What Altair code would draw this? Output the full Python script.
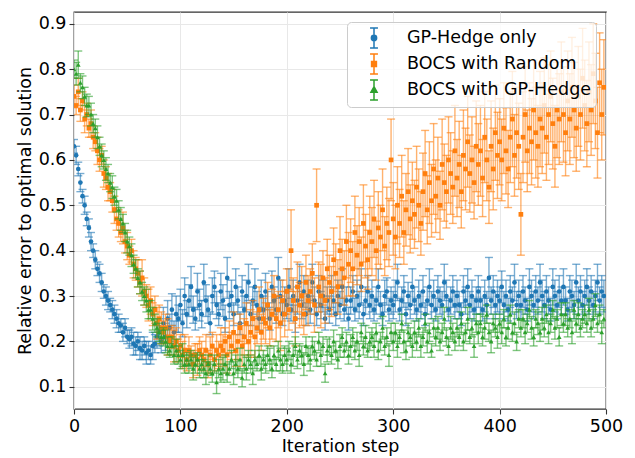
import altair as alt
import pandas as pd

# ---------------- data ----------------
steps = list(range(0, 500, 2))
series_names = ["GP-Hedge only", "BOCS with Random", "BOCS with GP-Hedge"]
series_colors = ["#1f77b4", "#ff7f0e", "#2ca02c"]
series_markers = ["circle", "square", "triangle-up"]
x_ticks = [0, 100, 200, 300, 400, 500]
y_ticks = [0.1, 0.2, 0.3, 0.4, 0.5, 0.6, 0.7, 0.8, 0.9]

gp_val = [
    0.63, 0.61, 0.58, 0.55, 0.52, 0.50, 0.47, 0.45, 0.42, 0.40,
    0.38, 0.36, 0.35, 0.33, 0.31, 0.30, 0.29, 0.28, 0.27, 0.26,
    0.25, 0.24, 0.235, 0.22, 0.23, 0.21, 0.205, 0.21, 0.195, 0.19,
    0.20, 0.185, 0.18, 0.19, 0.175, 0.18, 0.17, 0.19, 0.195, 0.21,
    0.22, 0.20, 0.24, 0.21, 0.25, 0.23, 0.27, 0.22, 0.26, 0.25,
    0.28, 0.24, 0.30, 0.26, 0.29, 0.32, 0.27, 0.25, 0.31, 0.28,
    0.26, 0.33, 0.29, 0.27, 0.24, 0.30, 0.32, 0.28, 0.26, 0.31,
    0.29, 0.25, 0.34, 0.28, 0.30, 0.26, 0.32, 0.29, 0.24, 0.31,
    0.27, 0.30, 0.33, 0.26, 0.29, 0.32, 0.28, 0.25, 0.30, 0.27,
    0.31, 0.28, 0.25, 0.32, 0.29, 0.27, 0.34, 0.30, 0.26, 0.29,
    0.28, 0.32, 0.27, 0.30, 0.25, 0.29, 0.33, 0.28, 0.31, 0.26,
    0.30, 0.27, 0.33, 0.29, 0.26, 0.31, 0.28, 0.30, 0.25, 0.29,
    0.27, 0.31, 0.29, 0.26, 0.30, 0.28, 0.32, 0.27, 0.29, 0.25,
    0.29, 0.31, 0.27, 0.30, 0.28, 0.32, 0.26, 0.29, 0.31, 0.28,
    0.30, 0.27, 0.29, 0.32, 0.28, 0.26, 0.30, 0.31, 0.27, 0.29,
    0.28, 0.30, 0.33, 0.27, 0.29, 0.31, 0.26, 0.30, 0.28, 0.32,
    0.29, 0.27, 0.30, 0.28, 0.31, 0.26, 0.29, 0.32, 0.28, 0.30,
    0.27, 0.31, 0.29, 0.28, 0.33, 0.30, 0.27, 0.29, 0.31, 0.28,
    0.30, 0.28, 0.26, 0.31, 0.29, 0.32, 0.28, 0.30, 0.27, 0.29,
    0.31, 0.29, 0.27, 0.30, 0.28, 0.34, 0.29, 0.31, 0.28, 0.30,
    0.29, 0.32, 0.28, 0.30, 0.27, 0.31, 0.29, 0.33, 0.28, 0.30,
    0.28, 0.31, 0.29, 0.27, 0.32, 0.30, 0.28, 0.31, 0.29, 0.33,
    0.30, 0.28, 0.31, 0.29, 0.27, 0.32, 0.30, 0.28, 0.31, 0.29,
    0.32, 0.29, 0.27, 0.31, 0.30, 0.28, 0.33, 0.29, 0.31, 0.28,
    0.30, 0.32, 0.29, 0.31, 0.28, 0.30, 0.33, 0.29, 0.31, 0.30,
]
gp_err = [
    0.015, 0.02, 0.015, 0.02, 0.015, 0.02, 0.015, 0.02, 0.02, 0.015,
    0.02, 0.015, 0.02, 0.02, 0.015, 0.02, 0.02, 0.015, 0.02, 0.02,
    0.02, 0.02, 0.015, 0.02, 0.02, 0.015, 0.02, 0.02, 0.025, 0.02,
    0.02, 0.025, 0.02, 0.02, 0.025, 0.02, 0.02, 0.03, 0.02, 0.025,
    0.03, 0.025, 0.035, 0.03, 0.04, 0.03, 0.035, 0.025, 0.04, 0.03,
    0.035, 0.03, 0.04, 0.03, 0.035, 0.045, 0.03, 0.025, 0.04, 0.035,
    0.03, 0.04, 0.035, 0.03, 0.025, 0.04, 0.035, 0.03, 0.025, 0.04,
    0.035, 0.03, 0.045, 0.03, 0.035, 0.025, 0.04, 0.03, 0.025, 0.035,
    0.03, 0.035, 0.04, 0.025, 0.03, 0.04, 0.03, 0.025, 0.035, 0.03,
    0.04, 0.03, 0.025, 0.035, 0.03, 0.03, 0.045, 0.035, 0.025, 0.03,
    0.03, 0.04, 0.025, 0.035, 0.03, 0.03, 0.04, 0.03, 0.035, 0.025,
    0.035, 0.03, 0.04, 0.03, 0.025, 0.035, 0.03, 0.035, 0.025, 0.03,
    0.03, 0.035, 0.03, 0.025, 0.035, 0.03, 0.04, 0.025, 0.03, 0.025,
    0.03, 0.035, 0.025, 0.035, 0.03, 0.04, 0.025, 0.03, 0.035, 0.03,
    0.035, 0.025, 0.03, 0.04, 0.03, 0.025, 0.035, 0.03, 0.025, 0.03,
    0.03, 0.035, 0.04, 0.025, 0.03, 0.035, 0.025, 0.03, 0.03, 0.04,
    0.03, 0.025, 0.035, 0.03, 0.035, 0.025, 0.03, 0.04, 0.03, 0.035,
    0.025, 0.035, 0.03, 0.03, 0.04, 0.035, 0.025, 0.03, 0.035, 0.03,
    0.035, 0.03, 0.025, 0.035, 0.03, 0.04, 0.03, 0.035, 0.025, 0.03,
    0.035, 0.03, 0.025, 0.035, 0.03, 0.045, 0.03, 0.035, 0.03, 0.035,
    0.03, 0.035, 0.03, 0.035, 0.025, 0.035, 0.03, 0.04, 0.03, 0.035,
    0.03, 0.035, 0.03, 0.025, 0.04, 0.035, 0.03, 0.035, 0.03, 0.04,
    0.035, 0.03, 0.035, 0.03, 0.025, 0.04, 0.035, 0.03, 0.035, 0.03,
    0.04, 0.03, 0.025, 0.035, 0.035, 0.03, 0.04, 0.03, 0.035, 0.03,
    0.035, 0.04, 0.03, 0.035, 0.03, 0.035, 0.04, 0.03, 0.035, 0.035,
]

rnd_val = [
    0.74, 0.72, 0.75, 0.71, 0.73, 0.69, 0.70, 0.67, 0.68, 0.65,
    0.64, 0.62, 0.60, 0.61, 0.57, 0.56, 0.54, 0.53, 0.51, 0.49,
    0.47, 0.46, 0.44, 0.45, 0.42, 0.41, 0.39, 0.40, 0.37, 0.36,
    0.35, 0.33, 0.34, 0.31, 0.30, 0.28, 0.29, 0.26, 0.27, 0.24,
    0.25, 0.23, 0.22, 0.23, 0.21, 0.20, 0.21, 0.19, 0.20, 0.18,
    0.19, 0.17, 0.18, 0.16, 0.18, 0.17, 0.15, 0.17, 0.16, 0.18,
    0.17, 0.16, 0.18, 0.15, 0.17, 0.19, 0.16, 0.18, 0.17, 0.19,
    0.18, 0.20, 0.17, 0.21, 0.19, 0.22, 0.18, 0.20, 0.23, 0.19,
    0.21, 0.24, 0.20, 0.22, 0.25, 0.21, 0.23, 0.27, 0.22, 0.25,
    0.24, 0.28, 0.23, 0.26, 0.30, 0.25, 0.27, 0.24, 0.29, 0.26,
    0.31, 0.27, 0.40, 0.29, 0.25, 0.32, 0.28, 0.30, 0.26, 0.33,
    0.29, 0.31, 0.35, 0.28, 0.50, 0.32, 0.30, 0.34, 0.29, 0.36,
    0.33, 0.31, 0.38, 0.35, 0.32, 0.40, 0.36, 0.34, 0.42, 0.37,
    0.40, 0.36, 0.44, 0.39, 0.42, 0.37, 0.46, 0.41, 0.38, 0.44,
    0.42, 0.47, 0.40, 0.45, 0.43, 0.49, 0.41, 0.46, 0.44, 0.60,
    0.47, 0.43, 0.50, 0.46, 0.52, 0.44, 0.49, 0.53, 0.47, 0.51,
    0.48, 0.54, 0.50, 0.46, 0.53, 0.57, 0.49, 0.55, 0.51, 0.58,
    0.52, 0.56, 0.50, 0.59, 0.55, 0.53, 0.60, 0.57, 0.54, 0.62,
    0.56, 0.59, 0.53, 0.61, 0.58, 0.64, 0.57, 0.60, 0.55, 0.63,
    0.59, 0.62, 0.56, 0.65, 0.60, 0.54, 0.63, 0.58, 0.66, 0.61,
    0.64, 0.60, 0.67, 0.62, 0.58, 0.65, 0.69, 0.61, 0.66, 0.63,
    0.48, 0.65, 0.70, 0.62, 0.67, 0.64, 0.71, 0.66, 0.63, 0.69,
    0.67, 0.72, 0.65, 0.70, 0.74, 0.68, 0.63, 0.71, 0.69, 0.75,
    0.70, 0.66, 0.73, 0.69, 0.76, 0.71, 0.67, 0.74, 0.70, 0.78,
    0.72, 0.68, 0.75, 0.71, 0.79, 0.73, 0.66, 0.77, 0.70, 0.76,
]
rnd_err = [
    0.025, 0.02, 0.03, 0.025, 0.02, 0.03, 0.025, 0.02, 0.03, 0.025,
    0.02, 0.03, 0.025, 0.02, 0.03, 0.025, 0.03, 0.02, 0.025, 0.03,
    0.025, 0.03, 0.02, 0.035, 0.025, 0.03, 0.02, 0.025, 0.03, 0.025,
    0.03, 0.025, 0.04, 0.03, 0.025, 0.035, 0.03, 0.025, 0.03, 0.035,
    0.03, 0.035, 0.025, 0.03, 0.04, 0.03, 0.025, 0.035, 0.03, 0.025,
    0.025, 0.03, 0.035, 0.025, 0.03, 0.02, 0.03, 0.025, 0.035, 0.03,
    0.03, 0.025, 0.035, 0.03, 0.04, 0.03, 0.025, 0.035, 0.03, 0.04,
    0.035, 0.03, 0.04, 0.035, 0.03, 0.045, 0.035, 0.04, 0.03, 0.045,
    0.04, 0.045, 0.035, 0.05, 0.04, 0.045, 0.035, 0.05, 0.04, 0.045,
    0.045, 0.05, 0.04, 0.055, 0.045, 0.05, 0.04, 0.06, 0.045, 0.05,
    0.05, 0.045, 0.09, 0.05, 0.06, 0.055, 0.05, 0.065, 0.045, 0.06,
    0.055, 0.05, 0.065, 0.06, 0.08, 0.055, 0.07, 0.06, 0.05, 0.065,
    0.06, 0.055, 0.07, 0.065, 0.06, 0.075, 0.065, 0.06, 0.08, 0.07,
    0.07, 0.06, 0.08, 0.065, 0.075, 0.06, 0.085, 0.07, 0.065, 0.08,
    0.075, 0.085, 0.065, 0.08, 0.07, 0.09, 0.065, 0.08, 0.075, 0.09,
    0.08, 0.07, 0.085, 0.075, 0.09, 0.07, 0.08, 0.095, 0.075, 0.085,
    0.075, 0.09, 0.08, 0.07, 0.085, 0.095, 0.075, 0.09, 0.08, 0.1,
    0.08, 0.09, 0.075, 0.1, 0.085, 0.08, 0.095, 0.09, 0.08, 0.1,
    0.085, 0.095, 0.08, 0.1, 0.09, 0.1, 0.085, 0.095, 0.08, 0.1,
    0.09, 0.1, 0.085, 0.1, 0.09, 0.08, 0.1, 0.09, 0.105, 0.095,
    0.095, 0.09, 0.1, 0.095, 0.085, 0.1, 0.105, 0.09, 0.1, 0.095,
    0.09, 0.1, 0.105, 0.09, 0.1, 0.095, 0.11, 0.1, 0.09, 0.105,
    0.1, 0.105, 0.095, 0.11, 0.1, 0.1, 0.09, 0.105, 0.1, 0.11,
    0.105, 0.095, 0.11, 0.1, 0.11, 0.105, 0.095, 0.11, 0.1, 0.11,
    0.1, 0.095, 0.11, 0.1, 0.11, 0.105, 0.1, 0.11, 0.1, 0.105,
]

hedge_val = [
    0.80, 0.79, 0.81, 0.77, 0.76, 0.74, 0.72, 0.72, 0.70, 0.68,
    0.67, 0.65, 0.63, 0.61, 0.60, 0.58, 0.57, 0.55, 0.54, 0.52,
    0.51, 0.49, 0.47, 0.46, 0.44, 0.42, 0.41, 0.39, 0.37, 0.36,
    0.34, 0.33, 0.31, 0.30, 0.29, 0.27, 0.27, 0.25, 0.24, 0.23,
    0.22, 0.21, 0.21, 0.20, 0.19, 0.18, 0.19, 0.17, 0.18, 0.17,
    0.16, 0.17, 0.15, 0.16, 0.15, 0.16, 0.14, 0.15, 0.16, 0.14,
    0.15, 0.14, 0.13, 0.15, 0.14, 0.13, 0.15, 0.11, 0.14, 0.13,
    0.14, 0.15, 0.13, 0.14, 0.16, 0.13, 0.15, 0.14, 0.16, 0.12,
    0.15, 0.14, 0.16, 0.15, 0.13, 0.16, 0.15, 0.17, 0.14, 0.16,
    0.15, 0.17, 0.16, 0.14, 0.17, 0.15, 0.18, 0.16, 0.15, 0.17,
    0.16, 0.18, 0.15, 0.17, 0.19, 0.16, 0.18, 0.17, 0.15, 0.19,
    0.17, 0.16, 0.19, 0.18, 0.16, 0.20, 0.17, 0.19, 0.13, 0.18,
    0.19, 0.17, 0.20, 0.18, 0.16, 0.19, 0.21, 0.18, 0.20, 0.17,
    0.19, 0.21, 0.18, 0.20, 0.17, 0.22, 0.19, 0.21, 0.18, 0.20,
    0.21, 0.19, 0.22, 0.18, 0.20, 0.23, 0.19, 0.21, 0.17, 0.22,
    0.20, 0.22, 0.19, 0.21, 0.24, 0.20, 0.18, 0.22, 0.21, 0.19,
    0.22, 0.20, 0.23, 0.19, 0.21, 0.24, 0.20, 0.22, 0.18, 0.23,
    0.21, 0.23, 0.20, 0.22, 0.25, 0.21, 0.19, 0.23, 0.22, 0.20,
    0.23, 0.21, 0.24, 0.20, 0.22, 0.25, 0.21, 0.23, 0.19, 0.24,
    0.22, 0.24, 0.21, 0.23, 0.26, 0.22, 0.20, 0.24, 0.23, 0.21,
    0.24, 0.22, 0.25, 0.21, 0.23, 0.26, 0.22, 0.24, 0.20, 0.25,
    0.23, 0.25, 0.22, 0.24, 0.27, 0.23, 0.21, 0.25, 0.24, 0.22,
    0.25, 0.23, 0.26, 0.22, 0.24, 0.27, 0.23, 0.25, 0.21, 0.26,
    0.24, 0.26, 0.23, 0.25, 0.22, 0.27, 0.24, 0.26, 0.23, 0.25,
    0.26, 0.24, 0.27, 0.23, 0.25, 0.28, 0.24, 0.26, 0.22, 0.25,
]
hedge_err = [
    0.02, 0.025, 0.03, 0.02, 0.025, 0.02, 0.025, 0.02, 0.025, 0.02,
    0.02, 0.025, 0.02, 0.025, 0.02, 0.025, 0.02, 0.02, 0.025, 0.02,
    0.025, 0.02, 0.025, 0.02, 0.02, 0.025, 0.02, 0.025, 0.02, 0.02,
    0.02, 0.025, 0.02, 0.02, 0.025, 0.02, 0.02, 0.025, 0.02, 0.02,
    0.02, 0.015, 0.02, 0.025, 0.02, 0.015, 0.02, 0.02, 0.025, 0.02,
    0.02, 0.025, 0.02, 0.015, 0.02, 0.02, 0.025, 0.02, 0.015, 0.02,
    0.02, 0.02, 0.025, 0.02, 0.015, 0.02, 0.02, 0.025, 0.02, 0.02,
    0.025, 0.02, 0.02, 0.015, 0.02, 0.025, 0.02, 0.02, 0.025, 0.02,
    0.02, 0.025, 0.02, 0.02, 0.025, 0.02, 0.015, 0.02, 0.025, 0.02,
    0.02, 0.02, 0.025, 0.02, 0.02, 0.015, 0.02, 0.025, 0.02, 0.02,
    0.025, 0.02, 0.02, 0.025, 0.02, 0.02, 0.015, 0.02, 0.025, 0.02,
    0.02, 0.025, 0.02, 0.02, 0.015, 0.02, 0.025, 0.02, 0.02, 0.025,
    0.02, 0.02, 0.025, 0.02, 0.02, 0.025, 0.02, 0.015, 0.02, 0.02,
    0.025, 0.02, 0.02, 0.02, 0.025, 0.02, 0.02, 0.025, 0.015, 0.02,
    0.02, 0.025, 0.02, 0.02, 0.02, 0.025, 0.02, 0.02, 0.025, 0.02,
    0.02, 0.02, 0.025, 0.015, 0.02, 0.025, 0.02, 0.02, 0.02, 0.025,
    0.025, 0.02, 0.02, 0.025, 0.02, 0.02, 0.025, 0.02, 0.015, 0.02,
    0.02, 0.025, 0.02, 0.02, 0.025, 0.02, 0.02, 0.025, 0.02, 0.02,
    0.02, 0.02, 0.025, 0.02, 0.02, 0.025, 0.015, 0.02, 0.025, 0.02,
    0.025, 0.02, 0.02, 0.025, 0.02, 0.02, 0.025, 0.02, 0.02, 0.025,
    0.02, 0.025, 0.02, 0.02, 0.025, 0.02, 0.02, 0.025, 0.02, 0.02,
    0.02, 0.02, 0.025, 0.02, 0.02, 0.025, 0.02, 0.02, 0.025, 0.02,
    0.025, 0.02, 0.02, 0.025, 0.02, 0.02, 0.025, 0.02, 0.02, 0.025,
    0.02, 0.025, 0.02, 0.02, 0.025, 0.02, 0.02, 0.025, 0.02, 0.02,
    0.02, 0.02, 0.025, 0.02, 0.02, 0.025, 0.02, 0.02, 0.025, 0.02,
]

# legend glyphs: error bar with caps plus the series marker (unit-square paths)
legend_paths = [
    "M0,-0.9L0,0.9M-0.36,-0.9L0.36,-0.9M-0.36,0.9L0.36,0.9"
    "M-0.24,0A0.24,0.24,0,1,0,0.24,0A0.24,0.24,0,1,0,-0.24,0Z",
    "M0,-0.9L0,0.9M-0.36,-0.9L0.36,-0.9M-0.36,0.9L0.36,0.9"
    "M-0.22,-0.22L0.22,-0.22L0.22,0.22L-0.22,0.22Z",
    "M0,-0.9L0,0.9M-0.36,-0.9L0.36,-0.9M-0.36,0.9L0.36,0.9"
    "M0,-0.3L0.28,0.2L-0.28,0.2Z",
]

# ---------------- build ----------------
FONT = "DejaVu Sans"
x_scale = alt.Scale(domain=[0, 500], nice=False, zero=False)
y_scale = alt.Scale(domain=[0.051, 0.926], nice=False, zero=False)
x_axis = alt.Axis(values=x_ticks, title="Iteration step", labelFlush=False,
                  titlePadding=3)
y_axis = alt.Axis(values=y_ticks, format=".1f", title="Relative error to optimal solution",
                  labelFlush=False, titlePadding=4)

def X():
    return alt.X("step:Q", scale=x_scale, axis=x_axis)

def Yf(field):
    return alt.Y(f"{field}:Q", scale=y_scale, axis=y_axis)

layers = []
for name, color, marker, vals, errs in zip(
    series_names, series_colors, series_markers,
    [gp_val, rnd_val, hedge_val], [gp_err, rnd_err, hedge_err]
):
    df = pd.DataFrame({"step": steps, "value": vals, "err": errs})
    df["lo"] = df["value"] - df["err"]
    df["hi"] = df["value"] + df["err"]
    df["series"] = name
    base = alt.Chart(df)
    bars = base.mark_rule(color=color, strokeWidth=1.4, opacity=0.6, clip=True).encode(
        x=X(), y=Yf("lo"), y2="hi:Q")
    cap_lo = base.mark_tick(color=color, orient="horizontal", size=8, thickness=1.4,
                            opacity=0.6, clip=True).encode(x=X(), y=Yf("lo"))
    cap_hi = base.mark_tick(color=color, orient="horizontal", size=8, thickness=1.4,
                            opacity=0.6, clip=True).encode(x=X(), y=Yf("hi"))
    pts = base.mark_point(color=color, filled=True, opacity=1, shape=marker,
                          size=22, clip=True).encode(x=X(), y=Yf("value"))
    layers += [bars, cap_lo, cap_hi, pts]

# legend layer (marks clipped away, only the legend shows)
leg_df = pd.DataFrame({"series": series_names})
leg = alt.Legend(
    title=None, orient="top-right", offset=10, padding=4,
    symbolSize=484, symbolStrokeWidth=1.5, symbolOffset=11,
    labelOffset=21, rowPadding=0, labelFontSize=17.5, labelFont=FONT,
    labelColor="#000000", labelLimit=400, strokeColor="#cccccc",
    fillColor="rgba(255,255,255,0.8)", cornerRadius=4, symbolOpacity=1,
)
legend_layer = alt.Chart(leg_df).mark_point(filled=True, clip=True).encode(
    x=alt.value(-60), y=alt.value(-60),
    fill=alt.Fill("series:N", scale=alt.Scale(domain=series_names, range=series_colors),
                  legend=leg, sort=series_names),
    stroke=alt.Stroke("series:N", scale=alt.Scale(domain=series_names, range=series_colors),
                      legend=leg, sort=series_names),
    shape=alt.Shape("series:N", scale=alt.Scale(domain=series_names, range=legend_paths),
                    legend=leg, sort=series_names),
)
layers.append(legend_layer)

chart = alt.layer(*layers).properties(
    width=532, height=397,
    background="white",
    autosize=alt.AutoSizeParams(type="none"),
    padding={"left": 74, "top": 12, "right": 29, "bottom": 49},
).configure_view(
    stroke="#333333", strokeWidth=1.3,
).configure_axis(
    labelFont=FONT, titleFont=FONT, labelFontSize=17.5, titleFontSize=17.5,
    titleFontWeight="normal", labelColor="#000000", titleColor="#000000",
    tickColor="#333333", tickSize=5, tickWidth=1.1, domain=False,
    gridColor="#e8e8e8", gridWidth=1, labelPadding=3,
)

chart.save("out.html", embed_options={"renderer": "svg", "actions": False})
